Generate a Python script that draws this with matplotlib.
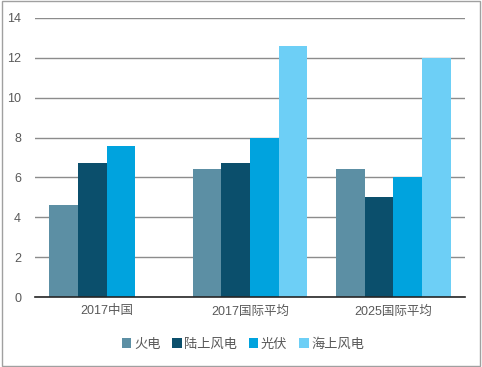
import matplotlib
matplotlib.use("Agg")
import matplotlib.pyplot as plt
import numpy as np
from matplotlib.patches import Rectangle

plt.rcParams['font.family'] = ['Liberation Sans', 'Noto Sans CJK SC', 'DejaVu Sans']

categories = ["2017中国", "2017国际平均", "2025国际平均"]
series_names = ["火电", "陆上风电", "光伏", "海上风电"]
huodian = [4.6, 6.4, 6.4]
lushang = [6.7, 6.7, 5.0]
guangfu = [7.6, 8.0, 6.0]
haishang = [np.nan, 12.6, 12.0]
colors = ["#5c8fa4", "#0b4f6c", "#00a3de", "#6dcff6"]

fig = plt.figure(figsize=(4.82, 3.67), dpi=100)
fig.patches.append(Rectangle((0.004, 0.004), 0.992, 0.992, transform=fig.transFigure,
                             fill=False, edgecolor="#a0a0a0", linewidth=1))
ax = fig.add_axes([35/482, 70/367, 430/482, 279/367])

x = np.arange(len(categories))
w = 0.2
data = [huodian, lushang, guangfu, haishang]
for i, (vals, name, c) in enumerate(zip(data, series_names, colors)):
    ax.bar(x - 0.3 + i * w, vals, width=w, color=c, label=name, zorder=3)

ax.set_xlim(-0.5, 2.5)
ax.set_ylim(0, 14)
ax.set_yticks(np.arange(0, 15, 2))
ax.yaxis.grid(True, color="#8c8c8c", linewidth=1, zorder=0)
ax.set_axisbelow(True)
for s in ["top", "right", "left"]:
    ax.spines[s].set_visible(False)
ax.spines["bottom"].set_color("#262626")
ax.spines["bottom"].set_linewidth(1.2)
ax.spines["bottom"].set_zorder(4)
ax.set_xticks(x)
ax.set_xticklabels(categories)
ax.tick_params(axis="both", length=0, labelsize=9, labelcolor="#595959")
ax.tick_params(axis="y", pad=10)
ax.tick_params(axis="x", pad=6)

leg = ax.legend(loc="upper center", bbox_to_anchor=(0.484, -0.105), ncol=4, frameon=False,
                fontsize=9.5, handlelength=0.7, handleheight=0.7, handletextpad=0.2,
                columnspacing=0.9, labelcolor="#595959")

fig.savefig("out.png", dpi=100)
